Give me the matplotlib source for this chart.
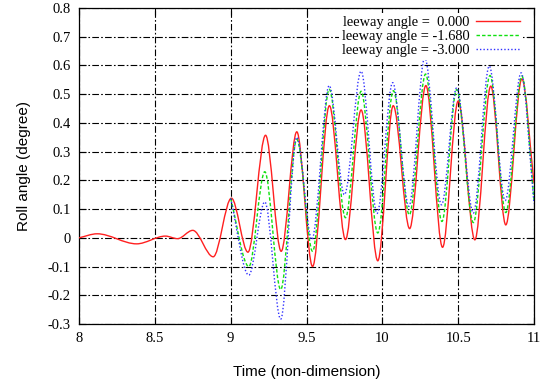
import numpy as np
import matplotlib
matplotlib.use("Agg")
import matplotlib.pyplot as plt
from matplotlib.path import Path
from matplotlib.patches import PathPatch
from matplotlib.lines import Line2D

# turning points of each roll trace
t_red = [8.0, 8.12, 8.38, 8.57, 8.65, 8.75, 8.885, 9.005, 9.114, 9.23, 9.333,
         9.436, 9.54, 9.651, 9.757, 9.86, 9.97, 10.072, 10.18, 10.287, 10.397,
         10.5, 10.61, 10.715, 10.814, 10.92, 11.0]
roll_red = [0.0, 0.014, -0.021, 0.006, -0.003, 0.026, -0.066, 0.138, -0.05, 0.357,
            -0.047, 0.369, -0.10, 0.46, -0.006, 0.445, -0.08, 0.46, 0.032, 0.53,
            -0.033, 0.476, -0.007, 0.528, 0.045, 0.553, 0.19]

t_green = [9.0, 9.12, 9.225, 9.33, 9.436, 9.54, 9.65, 9.757, 9.86, 9.97, 10.073,
           10.178, 10.285, 10.393, 10.49, 10.6, 10.71, 10.814, 10.92, 11.0]
roll_green = [0.137, -0.10, 0.23, -0.18, 0.343, -0.047, 0.517, 0.07, 0.51, 0.017,
              0.512, 0.08, 0.57, 0.057, 0.516, 0.053, 0.565, 0.088, 0.563, 0.13]

t_blue = [9.0, 9.12, 9.225, 9.33, 9.436, 9.535, 9.65, 9.75, 9.86, 9.965, 10.068,
          10.175, 10.28, 10.39, 10.49, 10.6, 10.705, 10.81, 10.915, 11.0]
roll_blue = [0.137, -0.13, 0.125, -0.283, 0.35, -0.006, 0.53, 0.15, 0.58, 0.085,
             0.54, 0.11, 0.627, 0.115, 0.522, 0.086, 0.598, 0.13, 0.574, 0.12]

labels = ["leeway angle =  0.000", "leeway angle = -1.680", "leeway angle = -3.000"]
colors = ["#ff2020", "#10e010", "#3030ff"]
styles = ["-", (0, (2.5, 1.5)), (0, (1, 1.5))]


def smooth_path(t, y):
    # cubic hermite pieces (pchip-like slopes) handed to matplotlib as bezier path
    t = np.asarray(t, float)
    y = np.asarray(y, float)
    h = np.diff(t)
    d = np.diff(y) / h
    m = np.zeros_like(y)
    for i in range(1, len(y) - 1):
        if d[i - 1] * d[i] > 0:
            m[i] = 2.0 / (1.0 / d[i - 1] + 1.0 / d[i])
    m[0] = d[0]
    m[-1] = d[-1]
    verts = [(t[0], y[0])]
    codes = [Path.MOVETO]
    for i in range(len(h)):
        verts += [(t[i] + h[i] / 3, y[i] + m[i] * h[i] / 3),
                  (t[i + 1] - h[i] / 3, y[i + 1] - m[i + 1] * h[i] / 3),
                  (t[i + 1], y[i + 1])]
        codes += [Path.CURVE4] * 3
    return Path(verts, codes)


plt.rcParams['font.family'] = ['Liberation Serif', 'DejaVu Serif']

fig = plt.figure(figsize=(5.44, 3.88), dpi=100)
ax = fig.add_axes([79 / 544, 1 - 324 / 388, (534 - 79) / 544, (324 - 8) / 388])

for tt, yy, c, ls in zip([t_red, t_green, t_blue], [roll_red, roll_green, roll_blue],
                         colors, styles):
    ax.add_patch(PathPatch(smooth_path(tt, yy), fill=False, edgecolor=c,
                           linewidth=1.0, linestyle=ls, zorder=3))

ax.set_xlim(8, 11)
ax.set_ylim(-0.3, 0.8)
ax.set_xticks(np.arange(8, 11.01, 0.5))
ax.set_xticklabels(["8", "8.5", "9", "9.5", "10", "10.5", "11"])
ax.set_yticks(np.arange(-0.3, 0.81, 0.1))
ax.set_yticklabels(["-0.3", "-0.2", "-0.1", "0", "0.1", "0.2", "0.3", "0.4",
                    "0.5", "0.6", "0.7", "0.8"])
ax.tick_params(direction="in", length=5, width=0.8, top=True, right=True,
               labelsize=10.5, colors="black", pad=6)
ax.grid(True, color="black", linewidth=0.8, linestyle=(0, (6, 2, 1.5, 2)))
ax.set_axisbelow(True)
for s in ax.spines.values():
    s.set_linewidth(0.9)

ax.set_xlabel("Time (non-dimension)", fontsize=11, family=["Liberation Sans"])
ax.set_ylabel("Roll angle (degree)", fontsize=11, family=["Liberation Sans"])
ax.xaxis.set_label_coords(0.5, -0.13)
ax.yaxis.set_label_coords(-0.105, 0.5)

handles = [Line2D([], [], color=c, linestyle=ls, linewidth=1.0)
           for c, ls in zip(colors, styles)]
leg = ax.legend(handles, labels, loc="upper right", bbox_to_anchor=(0.975, 0.985),
                markerfirst=False, fontsize=10.4, handlelength=3.0,
                handletextpad=0.5, labelspacing=0.08, borderpad=0.2,
                borderaxespad=0.0, frameon=True, fancybox=False)
leg.get_frame().set_edgecolor("none")
leg.get_frame().set_facecolor("white")
leg.get_frame().set_alpha(1.0)

fig.savefig("out.png", dpi=100)
